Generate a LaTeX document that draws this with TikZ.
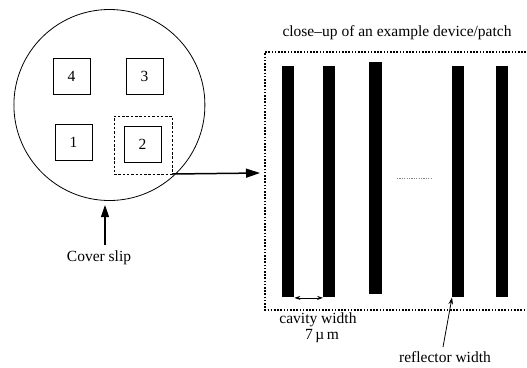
\documentclass[tikz,border=0pt]{standalone}
\usepackage{fontspec}
\setmainfont{Liberation Serif}
\usetikzlibrary{arrows.meta,shapes.geometric}
\begin{document}
\begin{tikzpicture}[x=1bp,y=-1bp,
  every node/.style={font=\fontsize{15.5bp}{18bp}\selectfont, inner sep=0pt},
  chip/.style={draw, line width=0.8bp, minimum width=37bp, minimum height=36bp},
  bar/.style={fill=black, minimum width=12bp, anchor=north west},
  bigdot/.style={line width=1.6bp, dash pattern=on 1.6bp off 1.6bp},
  smalldash/.style={line width=0.8bp, dash pattern=on 2.5bp off 1.8bp},
  arr/.style={-{Triangle[length=14bp,width=9bp]}, line width=1.5bp},
  uparr/.style={-{Triangle[length=12bp,width=8bp]}, line width=1.1bp},
  thinarr/.style={-{Stealth[length=7bp,width=4.5bp]}, line width=0.8bp}]
\useasboundingbox (0,0) rectangle (527,367);
% cover slip
\node[draw, circle, line width=0.8bp, outer sep=0pt, minimum size=191bp] (slip) at (109.4,105) {};
\node[chip] (c4) at (71.5,76) {4};
\node[chip] (c3) at (144.5,76) {3};
\node[chip] (c1) at (73.5,142.5) {1};
\node[chip] (c2) at (142.5,144.5) {2};
\node[smalldash, draw, outer sep=0pt, minimum width=58bp, minimum height=58bp] (sel) at (143,145) {};
% cover slip label
\node (cslabel) at (99,258) {Cover slip};
\coordinate (csarrow) at (105,245);
\draw[uparr] (csarrow) -- (105,205);
% close-up box
\node (title) at (397,33) {close--up of an example device/patch};
\coordinate (bx1) at (265,52);
\coordinate (bx2) at (265,310);
\coordinate (bx3) at (526,52);
\coordinate (bx4) at (526,310);
\draw[bigdot] (bx3) -- (bx1) -- (bx2) -- (bx4);
\coordinate (zoomtip) at (260,173);
\draw[arr] (sel.south east) -- (zoomtip);
% bars
\node[bar, minimum height=231bp] (b1) at (282,66) {};
\node[bar, minimum height=231bp] (b2) at (323,66) {};
\node[bar, minimum width=13bp, minimum height=232bp] (b3) at (369,62) {};
\node[bar, minimum height=231bp] (b4) at (452,66) {};
\node[bar, minimum height=231bp] (b5) at (496,66) {};
% ellipsis dots
\coordinate (d1) at (397,178);
\coordinate (d2) at (432,178);
\draw[gray, line width=0.7bp, dash pattern=on 1.2bp off 1.2bp] (d1) -- (d2);
% cavity width
\draw[{Stealth[length=6bp,width=4bp]}-{Stealth[length=6bp,width=4bp]}, line width=0.8bp] ([yshift=-0.5bp]b1.south east) -- ([yshift=-0.5bp]b2.south west);
\node (cav) at (318,320) {cavity width};
\node (mu) at (322,336) {7\,µ\,m};
% reflector width
\node (refl) at (445,357) {reflector width};
\coordinate (rstart) at (443,347);
\draw[thinarr] (rstart) -- (b4.south west);
\end{tikzpicture}
\end{document}
